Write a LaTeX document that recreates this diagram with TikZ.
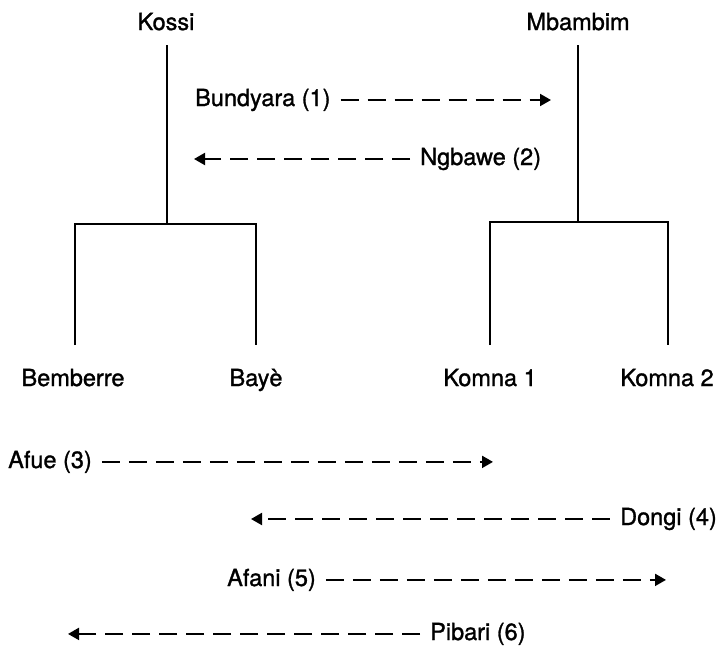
\documentclass[tikz,border=0pt]{standalone}
\usepackage{fontspec}
\setmainfont[FakeBold=1.2]{TeX Gyre Heros}
\usetikzlibrary{arrows.meta}
\begin{document}
\begin{tikzpicture}[x=1pt,y=-1pt,
 lbl/.style={font=\fontsize{23.5}{28}\selectfont, inner sep=4pt},
 tree/.style={line width=2pt},
 darr/.style={line width=2pt, dash pattern=on 18pt off 9pt, shorten <=6pt, -{Triangle[length=11pt,width=12pt]}}]
\useasboundingbox (0,0) rectangle (718,649);
% tree labels
\node[lbl, anchor=base] (kossi) at (166,30) {Kossi};
\node[lbl, anchor=base] (mbambim) at (578,30) {Mbambim};
\node[lbl, anchor=base] (bemberre) at (73,386) {Bemberre};
\node[lbl, anchor=base] (baye) at (256,386) {Bayè};
\node[lbl, anchor=base] (komna1) at (490,386) {Komna 1};
\node[lbl, anchor=base] (komna2) at (667,386) {Komna 2};
% tree coordinates
\coordinate (kt) at (167,45);
\coordinate (kj) at (167,224);
\coordinate (bl) at (75,224);
\coordinate (br) at (256,224);
\coordinate (blb) at (75,345);
\coordinate (brb) at (256,345);
\coordinate (mt) at (578,45);
\coordinate (mj) at (578,222);
\coordinate (ml) at (490,222);
\coordinate (mr) at (668,222);
\coordinate (mlb) at (490,345);
\coordinate (mrb) at (668,345);
\draw[tree] (kt) -- (kj);
\draw[tree] (blb) -- (bl) -- (br) -- (brb);
\draw[tree] (mt) -- (mj);
\draw[tree] (mlb) -- (ml) -- (mr) -- (mrb);
% arrow labels
\node[lbl, anchor=base west] (a1) at (191,106) {Bundyara (1)};
\node[lbl, anchor=base west] (a2) at (416,165) {Ngbawe (2)};
\node[lbl, anchor=base west] (a3) at (4,468) {Afue (3)};
\node[lbl, anchor=base east] (a4) at (721,525) {Dongi (4)};
\node[lbl, anchor=base west] (a5) at (223,586) {Afani (5)};
\node[lbl, anchor=base west] (a6) at (426,640) {Pibari (6)};
% arrow ends
\coordinate (e1) at (551,0);
\coordinate (e2) at (194,0);
\coordinate (e3) at (493,0);
\coordinate (e4) at (251,0);
\coordinate (e5) at (666,0);
\coordinate (e6) at (68,0);
\draw[darr] (a1.east) -- (a1.east -| e1);
\draw[darr] (a2.west) -- (a2.west -| e2);
\draw[darr] (a3.east) -- (a3.east -| e3);
\draw[darr] (a4.west) -- (a4.west -| e4);
\draw[darr] (a5.east) -- (a5.east -| e5);
\draw[darr] (a6.west) -- (a6.west -| e6);
\end{tikzpicture}
\end{document}
